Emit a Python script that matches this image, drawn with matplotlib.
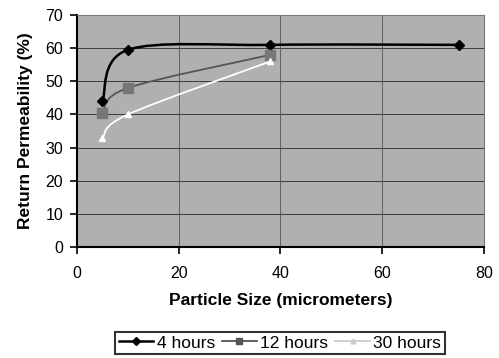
import matplotlib
matplotlib.use('Agg')
import matplotlib.pyplot as plt
from matplotlib.path import Path
from matplotlib.patches import PathPatch
from matplotlib.lines import Line2D

plt.rcParams['font.family'] = ['Liberation Sans', 'DejaVu Sans']

# particle size (micrometers) and return permeability (%)
size_4h = [5, 10, 38, 75]
perm_4h = [44, 59.5, 61, 61]
size_12h = [5, 10, 38]
perm_12h = [40.5, 48, 58]
size_30h = [5, 10, 38]
perm_30h = [33, 40, 56]

x_ticks = [0, 20, 40, 60, 80]
y_ticks = [0, 10, 20, 30, 40, 50, 60, 70]


def smooth_path(xs, ys):
    """Excel-style smoothed line as a chain of cubic Bezier segments."""
    pts = list(zip(xs, ys))
    verts = [pts[0]]
    codes = [Path.MOVETO]
    for i in range(len(pts) - 1):
        p0 = pts[i - 1] if i > 0 else pts[i]
        p1 = pts[i]
        p2 = pts[i + 1]
        p3 = pts[i + 2] if i + 2 < len(pts) else pts[i + 1]
        c1 = (p1[0] + (p2[0] - p0[0]) / 6, p1[1] + (p2[1] - p0[1]) / 6)
        c2 = (p2[0] - (p3[0] - p1[0]) / 6, p2[1] - (p3[1] - p1[1]) / 6)
        verts += [c1, c2, p2]
        codes += [Path.CURVE4] * 3
    return Path(verts, codes)


fig = plt.figure(figsize=(4.99, 3.58), dpi=100)
ax = fig.add_axes([0.1543, 0.310, 0.8156, 0.648])
ax.set_facecolor('#b0b0b0')

for y in y_ticks[1:]:
    ax.axhline(y, color='#3c3c3c', linewidth=0.7, zorder=1)
for x in x_ticks[1:]:
    ax.axvline(x, color='#555555', linewidth=0.6, zorder=1)

series = [
    (size_4h, perm_4h, 'black', 'D', 5.5, 'black', 1.8, '4 hours'),
    (size_12h, perm_12h, '#555555', 's', 6.5, '#777777', 1.3, '12 hours'),
    (size_30h, perm_30h, 'white', '^', 5, 'white', 1.3, '30 hours'),
]
handles = []
for xs, ys, lc, mk, ms, mc, lw, name in series:
    ax.add_patch(PathPatch(smooth_path(xs, ys), facecolor='none',
                           edgecolor=lc, linewidth=lw, zorder=3))
    ax.plot(xs, ys, linestyle='none', marker=mk, markersize=ms,
            color=mc, zorder=4)
    leg_color = '#cccccc' if lc == 'white' else lc
    handles.append(Line2D([], [], color=leg_color, linewidth=lw, marker=mk,
                          markersize=ms - 1.5, markerfacecolor=leg_color,
                          markeredgecolor=leg_color, label=name))

ax.set_xlim(0, 80)
ax.set_ylim(0, 70)
ax.set_xticks(x_ticks)
ax.set_yticks(y_ticks)
ax.tick_params(labelsize=11.5, length=5, width=1.2, direction='out')
ax.tick_params(axis='x', pad=9)
ax.tick_params(axis='y', pad=5)

for side in ['left', 'bottom']:
    ax.spines[side].set_linewidth(1.5)
for side in ['top', 'right']:
    ax.spines[side].set_color('#777777')
    ax.spines[side].set_linewidth(0.8)

ax.set_xlabel('Particle Size (micrometers)', fontsize=12.5,
              fontweight='bold', labelpad=8)
ax.set_ylabel('Return Permeability (%)', fontsize=12.5,
              fontweight='bold', labelpad=9)

leg = fig.legend(handles=handles, loc='center', ncol=3,
                 bbox_to_anchor=(0.561, 0.042), fontsize=12.5,
                 frameon=True, fancybox=False, edgecolor='black',
                 handlelength=2.0, handletextpad=0.2, columnspacing=0.4,
                 borderpad=0.2)
leg.get_frame().set_linewidth(1.5)

fig.savefig('out.png', dpi=100)
